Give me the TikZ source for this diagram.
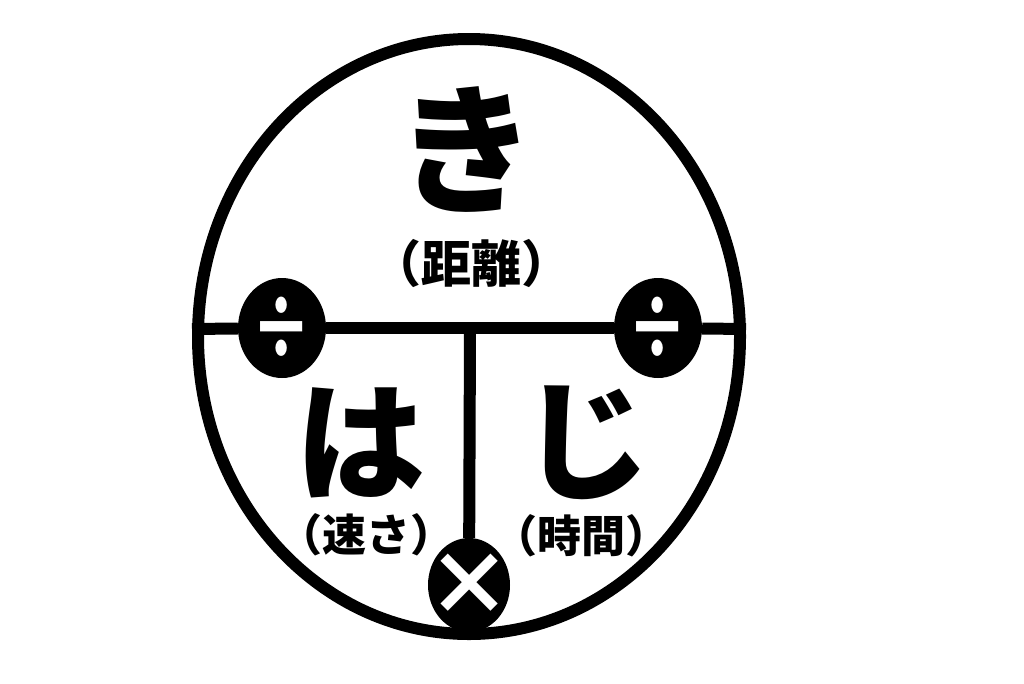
\documentclass[tikz,border=0pt]{standalone}
\usepackage{fontspec}
\newfontfamily\jpfont{Noto Sans CJK JP}
\usetikzlibrary{shapes.geometric}
\tikzset{outline/.style={line width=12pt, draw=black}}
\tikzset{opDisc/.style={ellipse, fill=black, inner sep=0pt}}
\tikzset{opSign/.style={inner sep=0pt, text=white, font=\jpfont\bfseries\fontsize{86}{86}\selectfont}}
\tikzset{bigKana/.style={inner sep=0pt, font=\jpfont\bfseries\fontsize{130}{130}\selectfont}}
\tikzset{meaning/.style={inner sep=0pt, font=\jpfont\bfseries\fontsize{44}{44}\selectfont}}

\begin{document}
\begin{tikzpicture}[x=1pt,y=-1pt]
\useasboundingbox[fill=white] (0,0) rectangle (1024,683);
% outer frame
\node[outline, ellipse, minimum width=542pt, minimum height=595pt, inner sep=0pt] (frame) at (469,336.5) {};
% operator discs
\node[opDisc, minimum width=88pt, minimum height=100pt] (divL) at (282,328) {};
\node[opDisc, minimum width=88pt, minimum height=100pt] (divR) at (658,328) {};
\node[opDisc, minimum width=82pt, minimum height=94pt] (mul) at (469,585) {};
\node[opSign] (divLsign) at (divL) {\scalebox{0.7}[1]{÷}};
\node[opSign] (divRsign) at (divR) {\scalebox{0.7}[1]{÷}};
\node[opSign] (mulsign) at (mul) {×};
\coordinate (fork) at (470,329);
\draw[outline] (frame.west |- fork) -- (divL);
\draw[outline] (divL) -- (divR);
\draw[outline] (divR) -- (frame.east |- fork);
\draw[outline] (fork) -- (mul);
% distance
\node[bigKana, font=\jpfont\bfseries\fontsize{140}{140}\selectfont] (ki) at (466,150) {き};
\node[meaning, font=\jpfont\bfseries\fontsize{50}{50}\selectfont] (kyori) at (471,263) {（距離）};
% speed
\node[bigKana] (ha) at (360,443) {は};
\node[meaning] (hayasa) at (366,535) {（速さ）};
% time
\node[bigKana] (ji) at (586,443) {じ};
\node[meaning] (jikan) at (581,536) {（時間）};
\end{tikzpicture}
\end{document}
